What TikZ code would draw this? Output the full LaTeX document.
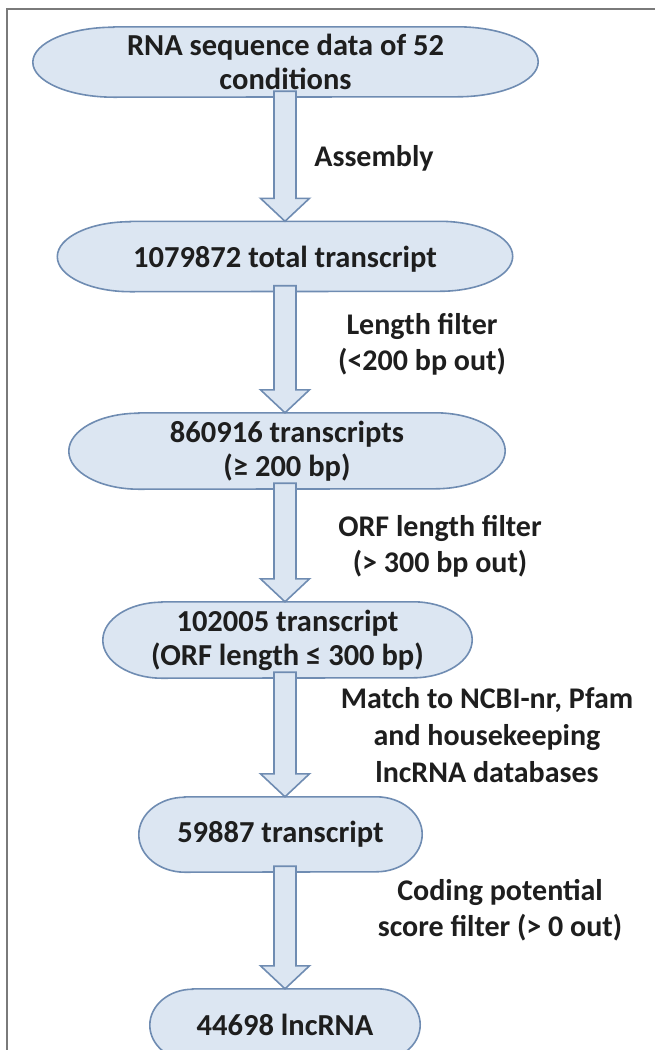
\documentclass[tikz,border=0pt]{standalone}
\usepackage{fontspec}
\setmainfont{Carlito}
\usetikzlibrary{calc,backgrounds}
\definecolor{boxfill}{HTML}{DCE6F2}
\definecolor{boxline}{HTML}{6F8CB2}
\definecolor{framegray}{HTML}{7A7A7A}
\definecolor{txt}{HTML}{1E1E1E}
\tikzset{
  boxtext/.style={inner sep=0pt, align=center, text=txt, font=\bfseries\fontsize{30.5}{34}\selectfont},
  labeltext/.style={inner sep=0pt, align=center, text=txt, font=\bfseries\fontsize{30}{36}\selectfont},
  termbox/.style={draw=boxline, fill=boxfill, line width=1.6pt},
  blockarrow/.style={draw=boxline, fill=boxfill, line width=1.6pt, line join=miter},
  framestyle/.style={draw=framegray, line width=1.5pt}
}
\newcommand\termshape[3]{%
  \path[termbox] ($(#1.north west)+(#2,0)$) -- ($(#1.north east)+(-#2,0)$)
    arc[start angle=90,end angle=-90,x radius=#2pt,y radius=#3pt]
    -- ($(#1.south west)+(#2,0)$)
    arc[start angle=270,end angle=90,x radius=#2pt,y radius=#3pt] -- cycle;}
\newcommand\flowarrow[2]{%
  \path[blockarrow] ($(#1.south -| axis)+(-11,-6)$) -- ($(#2.north -| axis)+(-11,-23)$)
    -- ($(#2.north -| axis)+(-24.5,-23)$) -- (#2.north -| axis)
    -- ($(#2.north -| axis)+(24.5,-23)$) -- ($(#2.north -| axis)+(11,-23)$)
    -- ($(#1.south -| axis)+(11,-6)$) -- cycle;}
\begin{document}
\begin{tikzpicture}[x=1pt,y=-1pt]
\useasboundingbox (0,0) rectangle (655,1050);
\clip (0,0) rectangle (655,1050);
\coordinate (axis) at (285,0);
% boxes (text)
\node[boxtext, minimum width=505pt, minimum height=70pt] (n1) at (285.5,62) {RNA sequence data of 52\\conditions};
\node[boxtext, minimum width=455pt, minimum height=70pt, text depth=0pt] (n2) at (285,256.5) {1079872 total transcript};
\node[boxtext, minimum width=436pt, minimum height=76pt] (n3) at (287,451) {860916 transcripts\\(≥ 200 bp)};
\node[boxtext, minimum width=369pt, minimum height=76pt] (n4) at (287.5,640) {102005 transcript\\(ORF length ≤ 300 bp)};
\node[boxtext, minimum width=283pt, minimum height=75pt] (n5) at (280.5,834.5) {59887 transcript};
\node[boxtext, minimum width=270pt, minimum height=72pt] (n6) at (285,1025) {44698 lncRNA};
% labels
\node[labeltext] (l1) at (374,158) {Assembly};
\node[labeltext] (l2) at (422,344) {Length filter\\(<200 bp out)};
\node[labeltext] (l3) at (440,546.5) {ORF length filter\\(> 300 bp out)};
\node[labeltext, font=\bfseries\fontsize{30}{37}\selectfont] (l4) at (487,735) {Match to NCBI-nr, Pfam\\and housekeeping\\lncRNA databases};
\node[labeltext] (l5) at (500,910.5) {Coding potential\\score filter (> 0 out)};
\begin{pgfonlayer}{background}
  \draw[framestyle] (7,9) rectangle (700,1100);
  \termshape{n1}{81}{35}
  \termshape{n2}{73}{35}
  \termshape{n3}{70}{38}
  \termshape{n4}{59}{38}
  \termshape{n5}{46}{37.5}
  \termshape{n6}{43}{36}
  \flowarrow{n1}{n2}
  \flowarrow{n2}{n3}
  \flowarrow{n3}{n4}
  \flowarrow{n4}{n5}
  \flowarrow{n5}{n6}
\end{pgfonlayer}
\end{tikzpicture}
\end{document}
